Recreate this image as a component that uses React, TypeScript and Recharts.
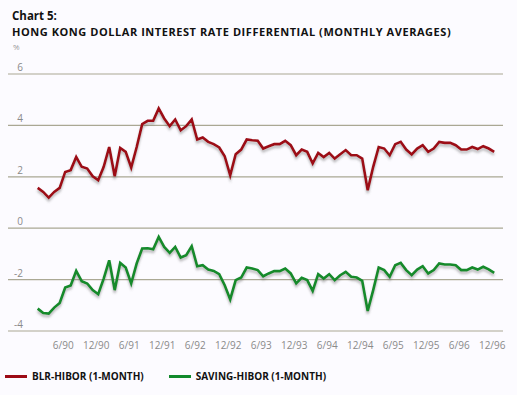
import React from "react";
import { LineChart, Line, XAxis, YAxis, ReferenceLine } from "recharts";

const months: number[] = Array.from({ length: 84 }, (_, i) => i); // Jan 1990 .. Dec 1996

const blrHibor: number[] = [
  1.57, 1.41, 1.19, 1.41, 1.57, 2.19, 2.26, 2.77, 2.39, 2.32, 2.02, 1.87,
  2.39, 3.16, 2.02, 3.12, 2.97, 2.36, 3.16, 4.05, 4.18, 4.18, 4.66, 4.27,
  3.97, 4.23, 3.81, 3.97, 4.23, 3.45, 3.53, 3.36, 3.27, 3.14, 2.8, 2.06,
  2.88, 3.06, 3.45, 3.42, 3.4, 3.1, 3.19, 3.27, 3.27, 3.4, 3.23, 2.84,
  3.06, 2.97, 2.52, 2.93, 2.77, 2.93, 2.71, 2.88, 3.04, 2.84, 2.84, 2.71,
  1.48, 2.39, 3.16, 3.1, 2.84, 3.27, 3.36, 3.06, 2.87, 3.1, 3.23, 2.97,
  3.1, 3.36, 3.32, 3.32, 3.23, 3.06, 3.06, 3.16, 3.08, 3.19, 3.1, 2.97,
];

const savingHibor: number[] = [
  -3.13, -3.3, -3.32, -3.09, -2.91, -2.31, -2.23, -1.66, -2.06, -2.15, -2.41, -2.57,
  -1.96, -1.25, -2.41, -1.35, -1.53, -2.15, -1.37, -0.79, -0.78, -0.82, -0.34, -0.73,
  -0.96, -0.73, -1.14, -1.05, -0.7, -1.48, -1.44, -1.61, -1.66, -1.79, -2.22, -2.77,
  -2.02, -1.92, -1.53, -1.57, -1.63, -1.87, -1.76, -1.67, -1.67, -1.57, -1.76, -2.15,
  -1.93, -2.02, -2.44, -1.79, -1.96, -1.79, -2.02, -1.83, -1.7, -1.89, -1.92, -2.05,
  -3.22, -2.41, -1.53, -1.63, -1.89, -1.44, -1.35, -1.63, -1.83, -1.61, -1.48, -1.76,
  -1.63, -1.37, -1.41, -1.41, -1.44, -1.63, -1.63, -1.53, -1.61, -1.5, -1.6, -1.74,
];

const xTickMonths: number[] = [5, 11, 17, 23, 29, 35, 41, 47, 53, 59, 65, 71, 77, 83];
const xTickLabels: string[] = [
  "6/90", "12/90", "6/91", "12/91", "6/92", "12/92", "6/93",
  "12/93", "6/94", "12/94", "6/95", "12/95", "6/96", "12/96",
];
const yTicks: number[] = [-4, -2, 0, 2, 4, 6];

const seriesNames = ["BLR-HIBOR (1-MONTH)", "SAVING-HIBOR (1-MONTH)"];

const data = months.map((m, i) => ({ m, blr: blrHibor[i], sav: savingHibor[i] }));

const RED = "#9c0b16";
const GREEN = "#128a2c";
const GRID = "#aaa894";
const FONT = "'Open Sans', 'Noto Sans', sans-serif";

const XTick = (props: any) => {
  const { x, y, payload } = props;
  const idx = xTickMonths.indexOf(payload.value);
  return (
    <text x={x - 2} y={y + 10} textAnchor="middle" fontSize={10} fill="#8a8a8a" fontFamily={FONT}>
      {idx >= 0 ? xTickLabels[idx] : ""}
    </text>
  );
};

const YTick = (props: any) => {
  const { y, payload } = props;
  return (
    <text x={23} y={y - 3} textAnchor="end" fontSize={10} fill="#8a8a8a" fontFamily={FONT}>
      {payload.value}
    </text>
  );
};

export default function App() {
  return (
    <div
      style={{
        position: "absolute",
        left: 0,
        top: 0,
        width: 517,
        height: 395,
        background: "#fcfbff",
        fontFamily: FONT,
        overflow: "hidden",
      }}
    >
      <div style={{ position: "absolute", left: 12, top: 8, fontSize: 11.5, fontWeight: 700, color: "#111" }}>
        Chart 5:
      </div>
      <div
        style={{
          position: "absolute",
          left: 12,
          top: 24,
          fontSize: 11,
          fontWeight: 700,
          letterSpacing: 0.55,
          color: "#111",
          whiteSpace: "nowrap",
        }}
      >
        HONG KONG DOLLAR INTEREST RATE DIFFERENTIAL (MONTHLY AVERAGES)
      </div>
      <div style={{ position: "absolute", left: 13, top: 41, fontSize: 8, color: "#9a9a9a" }}>%</div>

      <div style={{ position: "absolute", left: 0, top: 0 }}>
        <LineChart
          width={517}
          height={395}
          data={data}
          margin={{ top: 74, right: 14, bottom: 44, left: 7 }}
        >
          <defs>
            <filter id="shadow" x="-5%" y="-20%" width="110%" height="140%">
              <feDropShadow dx="0" dy="2.5" stdDeviation="1.2" floodColor="#666" floodOpacity="0.45" />
            </filter>
          </defs>
          <XAxis
            dataKey="m"
            type="number"
            domain={[-5.4, 84.6]}
            ticks={xTickMonths}
            tick={<XTick />}
            tickLine={false}
            axisLine={false}
            allowDataOverflow
            height={20}
          />
          <YAxis
            type="number"
            domain={[-4, 6]}
            ticks={yTicks}
            tick={<YTick />}
            tickLine={false}
            axisLine={false}
            width={1}
            allowDataOverflow
            interval={0}
          />
          {yTicks.map((v) => (
            <ReferenceLine key={v} y={v} stroke={GRID} strokeWidth={1.2} />
          ))}
          <Line
            dataKey="blr"
            stroke={RED}
            strokeWidth={2.6}
            dot={false}
            isAnimationActive={false}
            filter="url(#shadow)"
            strokeLinejoin="miter"
          />
          <Line
            dataKey="sav"
            stroke={GREEN}
            strokeWidth={2.6}
            dot={false}
            isAnimationActive={false}
            filter="url(#shadow)"
            strokeLinejoin="miter"
          />
        </LineChart>
      </div>

      <div style={{ position: "absolute", left: 5, top: 369, display: "flex", alignItems: "center", fontSize: 10, fontWeight: 700, color: "#111" }}>
        <span style={{ display: "inline-block", width: 22, height: 3, background: RED, marginRight: 5 }} />
        <span>{seriesNames[0]}</span>
        <span style={{ display: "inline-block", width: 22, height: 3, background: GREEN, marginLeft: 25, marginRight: 5 }} />
        <span>{seriesNames[1]}</span>
      </div>
    </div>
  );
}
